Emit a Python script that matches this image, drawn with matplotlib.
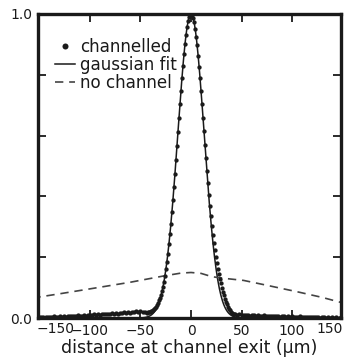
import numpy as np
import matplotlib
matplotlib.use("Agg")
import matplotlib.pyplot as plt

# channelled beam profile: central peak sampled every 1 um
peak_x = np.arange(-44, 45)
peak_y = [0.018, 0.020, 0.019, 0.021, 0.022, 0.024, 0.026, 0.030, 0.034, 0.038,
          0.044, 0.050, 0.058, 0.066, 0.076, 0.088, 0.102, 0.118, 0.138, 0.160,
          0.185, 0.212, 0.242, 0.275, 0.310, 0.348, 0.388, 0.430, 0.474, 0.519,
          0.565, 0.612, 0.658, 0.703, 0.748, 0.790, 0.830, 0.868, 0.902, 0.931,
          0.956, 0.975, 0.989, 0.997, 1.000,
          0.996, 0.987, 0.972, 0.951, 0.925, 0.896, 0.862, 0.826, 0.788, 0.747,
          0.703, 0.659, 0.615, 0.570, 0.526, 0.484, 0.443, 0.404, 0.368, 0.334,
          0.302, 0.273, 0.247, 0.223, 0.201, 0.181, 0.162, 0.145, 0.129, 0.114,
          0.100, 0.087, 0.075, 0.064, 0.054, 0.045, 0.038, 0.031, 0.026, 0.021,
          0.018, 0.015, 0.013, 0.012]

# low-level tails, sampled every 2 um
left_x = np.arange(-156, -45, 2)
left_y = [0.003, 0.004, 0.002, 0.004, 0.003, 0.005, 0.004, 0.003, 0.005, 0.004,
          0.006, 0.004, 0.005, 0.007, 0.005, 0.006, 0.004, 0.007, 0.006, 0.008,
          0.006, 0.007, 0.009, 0.007, 0.008, 0.010, 0.008, 0.009, 0.011, 0.010,
          0.012, 0.010, 0.013, 0.011, 0.012, 0.014, 0.012, 0.015, 0.013, 0.016,
          0.014, 0.017, 0.015, 0.018, 0.016, 0.019, 0.017, 0.020, 0.018, 0.021,
          0.019, 0.022, 0.020, 0.023, 0.021, 0.020]
right_x = np.arange(46, 157, 2)
right_y = [0.011, 0.012, 0.010, 0.011, 0.009, 0.010, 0.008, 0.010, 0.009, 0.008,
           0.009, 0.007, 0.008, 0.009, 0.007, 0.008, 0.006, 0.007, 0.008, 0.006,
           0.007, 0.005, 0.006, 0.007, 0.005, 0.006, 0.004, 0.006, 0.005, 0.004,
           0.005, 0.006, 0.004, 0.005, 0.003, 0.004, 0.005, 0.003, 0.004, 0.003,
           0.004, 0.002, 0.003, 0.004, 0.002, 0.003, 0.002, 0.003, 0.002, 0.003,
           0.002, 0.003, 0.002, 0.001, 0.002, 0.002]

# gaussian fit parameters
fit_amp = 1.0
fit_center = 0.0
fit_sigma = 13.0

# profile without channel
nochan_x = [-157, -130, -93, -60, -28, -10, 0, 10, 21, 35, 52, 75, 106, 130, 148, 155]
nochan_y = [0.066, 0.080, 0.100, 0.118, 0.138, 0.148, 0.150, 0.147, 0.136, 0.130,
            0.124, 0.108, 0.086, 0.068, 0.052, 0.047]

ink = "#1a1a1a"
plt.rcParams["font.family"] = "DejaVu Sans"

fig = plt.figure(figsize=(3.48, 3.64), dpi=100)
ax = fig.add_axes([0.109, 0.126, 0.871, 0.836])

data_x = np.concatenate([left_x, peak_x, right_x])
data_y = np.concatenate([left_y, peak_y, right_y])

fit_x = np.linspace(-157, 157, 600)
fit_y = fit_amp * np.exp(-0.5 * ((fit_x - fit_center) / fit_sigma) ** 2)

ax.plot(data_x, data_y, "o", color=ink, ms=3.1, mew=0, label="channelled", zorder=3)
ax.plot(fit_x, fit_y, "-", color=ink, lw=1.1, label="gaussian fit")
ax.plot(nochan_x, nochan_y, "--", color="#444444", lw=1.2, dashes=(5, 3.5),
        label="no channel")

ax.set_xlim(-151.5, 148.5)
ax.set_ylim(0, 1.0)

ax.set_xticks([-150, -100, -50, 0, 50, 100])
ax.set_xticklabels(["", "\u2212100", "\u221250", "0", "50", "100"])
ax.set_yticks([0, 0.2, 0.4, 0.6, 0.8, 1.0])
ax.set_yticklabels(["0.0", "", "", "", "", "1.0"])
ax.tick_params(direction="in", length=6, width=1.3, top=True, right=True,
               labelsize=10, colors=ink, pad=4)

# edge labels sit inside the spines
ax.text(-153, -0.014, "\u2212150", ha="left", va="top", fontsize=10, color=ink)
ax.text(150, -0.014, "150", ha="right", va="top", fontsize=10, color=ink)

for sp in ax.spines.values():
    sp.set_linewidth(2.4)
    sp.set_color(ink)

ax.set_xlabel("distance at channel exit (\u03bcm)", fontsize=12.5, color=ink,
              labelpad=1)

ax.legend(loc="upper left", bbox_to_anchor=(0.055, 0.922), frameon=False,
          fontsize=12.1, handlelength=1.2, handletextpad=0.3, labelspacing=0.0,
          borderpad=0, borderaxespad=0, labelcolor=ink, markerscale=1.4)

fig.savefig("out.png", dpi=100)
